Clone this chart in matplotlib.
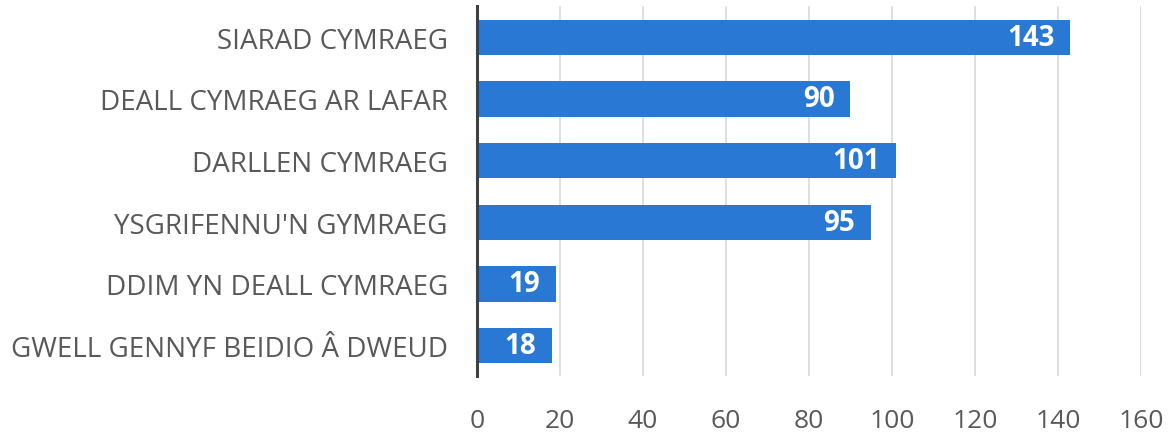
import matplotlib
matplotlib.use("Agg")
import matplotlib.pyplot as plt

categories = ["SIARAD CYMRAEG", "DEALL CYMRAEG AR LAFAR", "DARLLEN CYMRAEG",
              "YSGRIFENNU'N GYMRAEG", "DDIM YN DEALL CYMRAEG", "GWELL GENNYF BEIDIO Â DWEUD"]
values = [143, 90, 101, 95, 19, 18]
xticks = [0, 20, 40, 60, 80, 100, 120, 140, 160]

plt.rcParams['font.family'] = ['Open Sans', 'DejaVu Sans']
fig = plt.figure(figsize=(11.73, 4.35), dpi=100)
ax = fig.add_axes([0.4066, 0.1322, 0.9727 - 0.4066, 0.9828 - 0.1322])

ypos = list(range(len(categories)))
bars = ax.barh(ypos, values, height=0.57, color='#2878d4', zorder=3)
ax.set_ylim(len(categories) - 0.5, -0.5)
ax.set_xlim(0, 160)
ax.set_xticks(xticks)
ax.set_yticks(ypos)
ax.set_yticklabels(categories, fontsize=20, color='#595959')
ax.tick_params(axis='y', length=0, pad=21)
ax.tick_params(axis='x', length=0, pad=23, labelsize=19, labelcolor='#595959')
ax.grid(axis='x', color='#d9d9d9', linewidth=1.2, zorder=0)
for s in ['top', 'right', 'bottom']:
    ax.spines[s].set_visible(False)
ax.spines['left'].set_color('#404040')
ax.spines['left'].set_linewidth(2.2)
ax.spines['left'].set_zorder(4)

for b, v in zip(bars, values):
    ax.annotate(str(v), xy=(v, b.get_y() + b.get_height() / 2), xytext=(-16, 0),
                textcoords='offset pixels', ha='right', va='center',
                color='white', fontsize=20, fontweight='bold', zorder=5)

fig.savefig('out.png', dpi=100)
